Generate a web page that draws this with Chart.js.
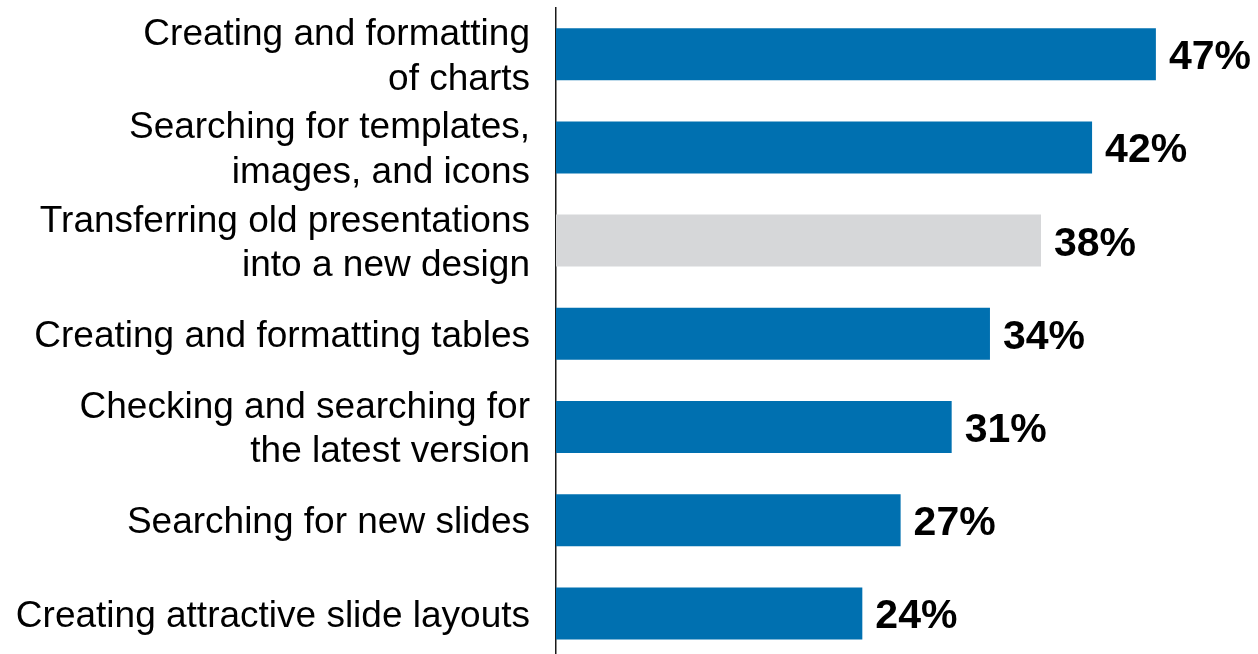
<!DOCTYPE html>
<html>
<head>
<meta charset="utf-8">
<script src="https://cdn.jsdelivr.net/npm/chart.js@4/dist/chart.umd.min.js"></script>
<style>
html,body{margin:0;padding:0;background:#fff;overflow:hidden;width:1258px;height:654px;}
#wrap{position:relative;width:1258px;height:668px;}
</style>
</head>
<body>
<div id="wrap"><canvas id="c"></canvas></div>
<script>
const categories = [
  ["Creating and formatting", "of charts"],
  ["Searching for templates,", "images, and icons"],
  ["Transferring old presentations", "into a new design"],
  "Creating and formatting tables",
  ["Checking and searching for", "the latest version"],
  "Searching for new slides",
  "Creating attractive slide layouts"
];
const values = [47, 42, 38, 34, 31, 27, 24];
const barColors = ["#0070B0", "#0070B0", "#D6D7D9", "#0070B0", "#0070B0", "#0070B0", "#0070B0"];

const valueLabels = {
  id: 'valueLabels',
  afterDatasetsDraw(chart) {
    const ctx = chart.ctx;
    const meta = chart.getDatasetMeta(0);
    ctx.save();
    ctx.font = 'bold 41px "Liberation Sans", Arial, sans-serif';
    ctx.fillStyle = '#000';
    ctx.textAlign = 'left';
    ctx.textBaseline = 'alphabetic';
    meta.data.forEach((bar, i) => {
      ctx.fillText(values[i] + '%', bar.x + 13, bar.y + 15);
    });
    ctx.restore();
  }
};

new Chart(document.getElementById('c'), {
  type: 'bar',
  data: {
    labels: categories,
    datasets: [{
      data: values,
      backgroundColor: barColors,
      borderWidth: 0,
      categoryPercentage: 1,
      barPercentage: 0.558
    }]
  },
  options: {
    indexAxis: 'y',
    responsive: true,
    maintainAspectRatio: false,
    animation: false,
    layout: { padding: { top: 7.6, bottom: 8, left: 0, right: 0 } },
    plugins: { legend: { display: false }, tooltip: { enabled: false } },
    scales: {
      x: { display: false, min: 0, max: 55 },
      y: {
        afterFit(scale) { scale.width = 556; scale.paddingTop = 0; scale.paddingBottom = 0; },
        grid: { display: false, drawTicks: false },
        border: { display: true, color: '#1a1a1a', width: 1.5 },
        ticks: {
          color: '#000',
          padding: 26,
          labelOffset: 3,
          font: { family: '"Liberation Sans", Arial, sans-serif', size: 37, lineHeight: 1.2 }
        }
      }
    }
  },
  plugins: [valueLabels]
});
</script>
</body>
</html>
